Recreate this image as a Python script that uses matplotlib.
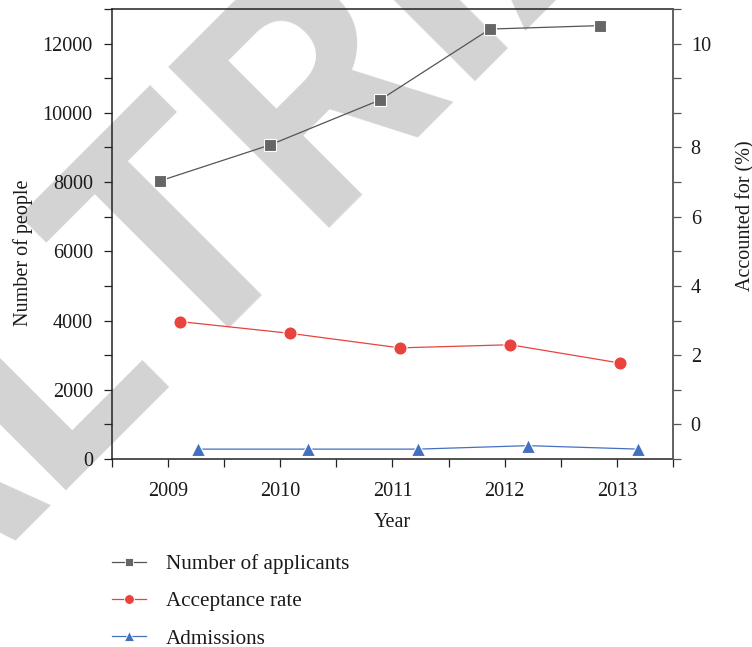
import matplotlib
matplotlib.use('Agg')
import matplotlib.pyplot as plt
from matplotlib.lines import Line2D
from matplotlib.ticker import FixedLocator, MultipleLocator

# ---------------- data ----------------
years = ['2009', '2010', '2011', '2012', '2013']
applicants = [8030, 9070, 10370, 12420, 12520]          # Number of people
acceptance_rate = [2.97, 2.63, 2.21, 2.30, 1.77]         # Accounted for (%)
admissions = [285, 285, 285, 385, 285]                   # Number of people
left_tick_values = [0, 2000, 4000, 6000, 8000, 10000, 12000]
right_tick_labels = ['0', '2', '4', '6', '8', '10']
series_names = ['Number of applicants', 'Acceptance rate', 'Admissions']

# ---------------- layout / style ----------------
plt.rcParams['font.family'] = ['Liberation Serif', 'DejaVu Serif']
FS = 14.5
X_START, X_STEP = 0.85, 1.963
SHIFT = [0.0, 0.36, 0.68]
RIGHT_TICK_POS = [0, 2, 4, 6, 8, 11]
C_GRAY, C_RED, C_BLUE = '#666666', '#e8433d', '#4470c0'

fig = plt.figure(figsize=(7.52, 6.47), dpi=100)

# watermark behind everything
wm_kw = dict(rotation=45, rotation_mode='anchor', va='baseline', fontsize=230,
             fontweight='bold', family='Roboto', color='#d3d3d3', zorder=-10)
fig.text(0.2314, 0.4173, 'TRIAL', ha='left', **wm_kw)
fig.text(0.2314, 0.4173, 'TRIAL', ha='right', **wm_kw)

ax = fig.add_axes([0.1489, 0.2906, 0.7460, 0.6955])
ax.set_facecolor('none')
ax2 = ax.twinx()
ax2.set_facecolor('none')

ax.set_xlim(0, 10)
ax.set_ylim(0, 13000)
ax2.set_ylim(-1, 12)

ax.xaxis.set_major_locator(FixedLocator([1, 3, 5, 7, 9]))
ax.set_xticklabels(years)
ax.xaxis.set_minor_locator(FixedLocator([0, 2, 4, 6, 8, 10]))
ax.yaxis.set_major_locator(FixedLocator(left_tick_values))
ax.set_yticklabels([str(v) for v in left_tick_values])
ax.yaxis.set_minor_locator(MultipleLocator(1000))
ax2.yaxis.set_major_locator(FixedLocator(RIGHT_TICK_POS))
ax2.set_yticklabels(right_tick_labels)
ax2.yaxis.set_minor_locator(MultipleLocator(1))

for a in (ax, ax2):
    a.tick_params(which='both', direction='out', length=5.8, width=0.9,
                  color='#222222', labelsize=FS, labelcolor='#1a1a1a')
ax.tick_params(axis='x', which='both', pad=10.5)
ax.tick_params(axis='y', which='both', pad=8)
ax2.tick_params(axis='y', which='both', pad=7, color='#555555')

for s in ('left', 'bottom', 'top'):
    ax.spines[s].set_linewidth(1.1)
    ax.spines[s].set_color('#222222')
ax.spines['right'].set_visible(False)
ax2.spines['right'].set_linewidth(1.3)
ax2.spines['right'].set_color('#555555')
for s in ('left', 'bottom', 'top'):
    ax2.spines[s].set_visible(False)

idx = range(len(years))
x_app = [X_START + X_STEP * i + SHIFT[0] for i in idx]
x_rate = [X_START + X_STEP * i + SHIFT[1] for i in idx]
x_adm = [X_START + X_STEP * i + SHIFT[2] for i in idx]

ax.plot(x_app, applicants, color='#555555', lw=0.9, marker='s', ms=8.2,
        mfc=C_GRAY, mec='white', mew=0.8, zorder=3)
ax2.plot(x_rate, acceptance_rate, color=C_RED, lw=0.9, marker='o', ms=9.5,
         mfc=C_RED, mec='white', mew=0.8, zorder=3)
ax.plot(x_adm, admissions, color=C_BLUE, lw=0.9, marker='^', ms=10.5,
        mfc=C_BLUE, mec='white', mew=0.8, zorder=3)

ax.set_xlabel('Year', fontsize=FS, color='#1a1a1a')
ax.xaxis.set_label_coords(0.5, -0.121)
ax.set_ylabel('Number of people', fontsize=FS, color='#1a1a1a')
ax.yaxis.set_label_coords(-0.140, 0.458)
ax2.set_ylabel('Accounted for (%)', fontsize=FS, color='#1a1a1a')
ax2.yaxis.set_label_coords(1.1125, 0.54)

handles = [
    Line2D([], [], color='#555555', lw=0.9, marker='s', ms=6, mfc=C_GRAY, mec='white', mew=0.6),
    Line2D([], [], color=C_RED, lw=0.9, marker='o', ms=7, mfc=C_RED, mec='white', mew=0.6),
    Line2D([], [], color=C_BLUE, lw=0.9, marker='^', ms=7.5, mfc=C_BLUE, mec='white', mew=0.6),
]
leg = fig.legend(handles, series_names, loc='upper left', bbox_to_anchor=(0.149, 0.143),
                 frameon=False, fontsize=15.2, handlelength=1.6, handletextpad=0.95,
                 labelspacing=0.82, borderpad=0, borderaxespad=0)
for t in leg.get_texts():
    t.set_color('#1a1a1a')

fig.savefig('out.png', dpi=100)
